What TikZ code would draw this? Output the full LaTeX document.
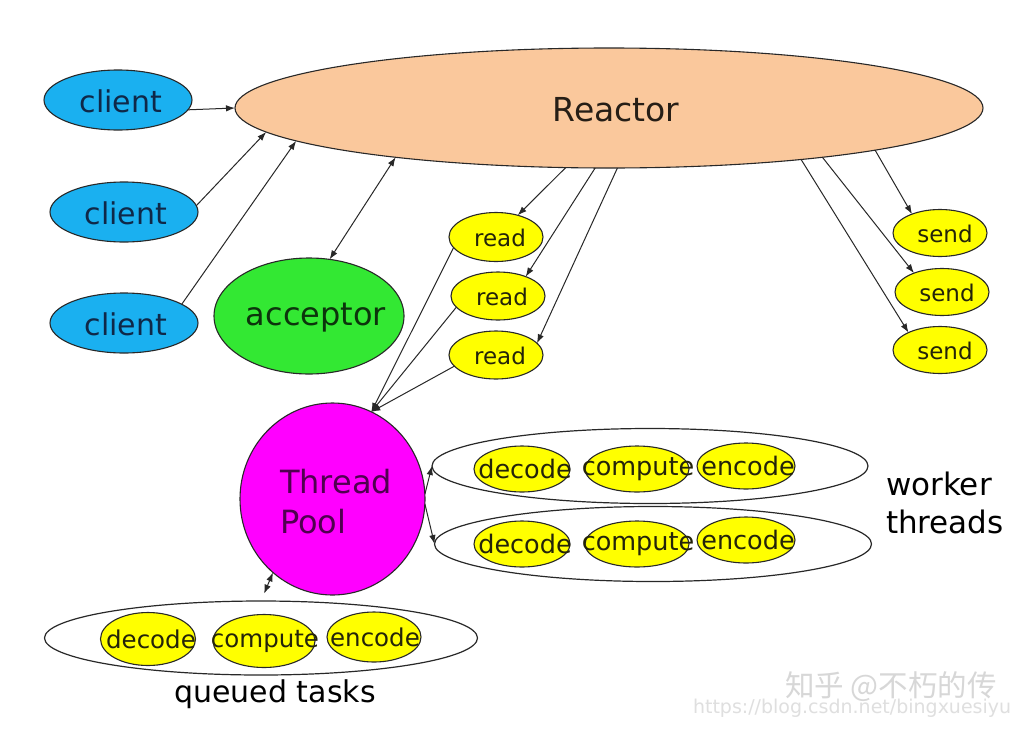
\documentclass[tikz,border=0pt]{standalone}
\usepackage{fontspec}
\setmainfont{DejaVu Sans}
\newfontfamily\cjkfont{Noto Sans CJK SC}
\usetikzlibrary{shapes.geometric,arrows.meta}
\definecolor{clientc}{RGB}{26,176,240}
\definecolor{reactorc}{RGB}{250,200,156}
\definecolor{acceptc}{RGB}{51,232,51}
\definecolor{yellowc}{RGB}{255,255,0}
\definecolor{magentac}{RGB}{255,0,255}
\definecolor{clienttxt}{RGB}{15,40,72}
\definecolor{darktxt}{RGB}{38,30,22}
\definecolor{accepttxt}{RGB}{12,52,12}
\definecolor{pooltxt}{RGB}{80,0,80}
\definecolor{yellowtxt}{RGB}{36,36,10}
\definecolor{linec}{RGB}{40,40,40}
\definecolor{wmc}{RGB}{215,215,215}
\newcommand\myfs[2]{\fontsize{#1}{#2}\selectfont}
\tikzset{
  blob/.style={ellipse, draw=linec, line width=1.1pt, inner sep=0pt, outer sep=0pt},
  ring/.style={ellipse, draw=linec, line width=1.2pt, inner sep=0pt, outer sep=0pt},
  txt/.style={inner sep=0pt, outer sep=0pt},
  bigtxt/.style={txt, font=\myfs{30}{36}},
  smalltxt/.style={txt, font=\myfs{23}{28}, text=yellowtxt},
  tasktxt/.style={txt, font=\myfs{25.5}{30}, text=yellowtxt},
  conn/.style={draw=linec, line width=1pt, -{Latex[length=9pt,width=6.5pt]}},
  conn2/.style={draw=linec, line width=1pt, {Latex[length=9pt,width=6.5pt]}-{Latex[length=9pt,width=6.5pt]}},
}
\begin{document}
\begin{tikzpicture}[x=1pt,y=-1pt]
\useasboundingbox (0,0) rectangle (1019,739);
\fill[white] (0,0) rectangle (1019,739);

% watermark
\node[txt, anchor=west, text=wmc, font=\cjkfont\myfs{29.5}{34}] (wm1) at (785,687) {知乎 @不朽的传};
\node[txt, anchor=west, text=wmc!80, font=\myfs{19}{22}] (wm2) at (693,708) {https://blog.csdn.net/bingxuesiyu};

% Reactor and clients
\node[blob, fill=reactorc, minimum width=748pt, minimum height=120pt] (reactor) at (609,108) {};
\node[bigtxt, font=\myfs{33}{40}, text=darktxt] (reactortxt) at (616,110) {Reactor};

\node[blob, fill=clientc, minimum width=148pt, minimum height=60pt] (client1) at (118,100) {};
\node[bigtxt, text=clienttxt] (client1txt) at (121,101) {client};
\node[blob, fill=clientc, minimum width=148pt, minimum height=60pt] (client2) at (124,212) {};
\node[bigtxt, text=clienttxt] (client2txt) at (126,213) {client};
\node[blob, fill=clientc, minimum width=148pt, minimum height=60pt] (client3) at (124,323) {};
\node[bigtxt, text=clienttxt] (client3txt) at (126,324) {client};

\node[blob, fill=acceptc, minimum width=190pt, minimum height=116pt] (acceptor) at (309,316) {};
\node[bigtxt, font=\myfs{32}{38}, text=accepttxt] (acceptortxt) at (316,318) {acceptor};

% read / send
\node[blob, fill=yellowc, minimum width=94pt, minimum height=49pt] (read1) at (496,237) {};
\node[smalltxt] (read1txt) at (500,238) {read};
\node[blob, fill=yellowc, minimum width=94pt, minimum height=48pt] (read2) at (498,296) {};
\node[smalltxt] (read2txt) at (502,297) {read};
\node[blob, fill=yellowc, minimum width=94pt, minimum height=48pt] (read3) at (496,355) {};
\node[smalltxt] (read3txt) at (500,356) {read};

\node[blob, fill=yellowc, minimum width=94pt, minimum height=47pt] (send1) at (940,233) {};
\node[smalltxt] (send1txt) at (945,234) {send};
\node[blob, fill=yellowc, minimum width=94pt, minimum height=47pt] (send2) at (942,292) {};
\node[smalltxt] (send2txt) at (947,293) {send};
\node[blob, fill=yellowc, minimum width=94pt, minimum height=47pt] (send3) at (940,350) {};
\node[smalltxt] (send3txt) at (945,351) {send};

% Thread pool
\node[blob, fill=magentac, minimum width=185pt, minimum height=192pt] (pool) at (332.5,499) {};
\node[txt, anchor=west, align=left, font=\myfs{32}{40}, text=pooltxt] (pooltxt) at (280,502) {Thread\\Pool};

% worker threads
\node[ring, minimum width=436pt, minimum height=75pt] (worker1) at (650,466) {};
\node[ring, minimum width=437pt, minimum height=75pt] (worker2) at (653,544) {};
\node[txt, anchor=west, align=left, font=\myfs{31}{38}, text=black] (workertxt) at (886,503) {worker\\threads};

\node[blob, fill=yellowc, minimum width=96pt, minimum height=46pt] (dec1) at (522,469) {};
\node[blob, fill=yellowc, minimum width=104pt, minimum height=46pt] (com1) at (637,469) {};
\node[blob, fill=yellowc, minimum width=98pt, minimum height=46pt] (enc1) at (746,466) {};
\node[tasktxt, xshift=3pt] (dec1txt) at (dec1) {decode};
\node[tasktxt, xshift=1pt] (com1txt) at (com1) {compute};
\node[tasktxt, xshift=2pt] (enc1txt) at (enc1) {encode};

\node[blob, fill=yellowc, minimum width=96pt, minimum height=46pt] (dec2) at (522,544) {};
\node[blob, fill=yellowc, minimum width=104pt, minimum height=46pt] (com2) at (637,544) {};
\node[blob, fill=yellowc, minimum width=98pt, minimum height=46pt] (enc2) at (746,540) {};
\node[tasktxt, xshift=3pt] (dec2txt) at (dec2) {decode};
\node[tasktxt, xshift=1pt] (com2txt) at (com2) {compute};
\node[tasktxt, xshift=2pt] (enc2txt) at (enc2) {encode};

% queued tasks
\node[ring, minimum width=433pt, minimum height=74pt] (queue) at (261,638) {};
\node[blob, fill=yellowc, minimum width=95pt, minimum height=53pt] (dec3) at (148,639) {};
\node[blob, fill=yellowc, minimum width=102pt, minimum height=53pt] (com3) at (264,641) {};
\node[blob, fill=yellowc, minimum width=94pt, minimum height=50pt] (enc3) at (374,637) {};
\node[tasktxt, font=\myfs{24.5}{28}, xshift=3pt] (dec3txt) at (dec3) {decode};
\node[tasktxt, font=\myfs{24.5}{28}, xshift=1pt] (com3txt) at (com3) {compute};
\node[tasktxt, font=\myfs{24.5}{28}, xshift=1pt] (enc3txt) at (enc3) {encode};
\node[txt, font=\myfs{30}{36}, text=black] (queuetxt) at (275,694) {queued tasks};

% connectors
\draw[conn] (client1.-8) -- (reactor.west);
\draw[conn] (client2.5) -- (reactor.184.2);
\draw[conn] (client3.18.7) -- (reactor.186.2);
\draw[conn2] (acceptor.70) -- (reactor.193.7);

\draw[conn] (reactor.234.8) -- (read1.45);
\draw[conn] (reactor.257.8) -- (read2.35);
\draw[conn] (reactor.278.5) -- (read3.16.5);

\draw[conn] (reactor.351.1) -- (send1.146.7);
\draw[conn] (reactor.347.9) -- (send2.146.8);
\draw[conn] (reactor.345.7) -- (send3.151);

\draw[conn] (read1.194) -- (pool.66.8);
\draw[conn] (read2.195.6) -- (pool.66.8);
\draw[conn] (read3.195) -- (pool.66.8);

\draw[conn] (pool.3) -- (worker1.west);
\draw[conn] (pool.-3) -- (worker2.west);
\draw[conn2, shorten <=8pt] (queue.north) -- (pool.231.5);
\end{tikzpicture}
\end{document}
